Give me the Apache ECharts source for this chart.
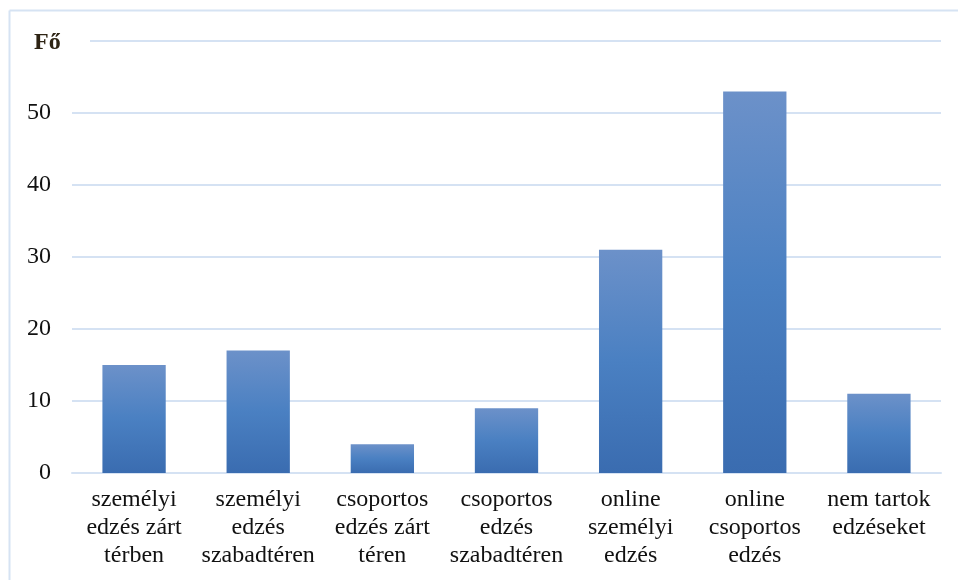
<!DOCTYPE html>
<html>
<head>
<meta charset="utf-8">
<title>Edzésformák</title>
<script src="https://cdn.jsdelivr.net/npm/echarts@6/dist/echarts.min.js"></script>
<style>
  html, body { margin: 0; padding: 0; background: #fff; }
  #main { width: 958px; height: 580px; }
</style>
</head>
<body>
<div id="main"></div>
<script type="text/javascript">
// adatok
var categories = [
  'személyi\nedzés zárt\ntérben',
  'személyi\nedzés\nszabadtéren',
  'csoportos\nedzés zárt\ntéren',
  'csoportos\nedzés\nszabadtéren',
  'online\nszemélyi\nedzés',
  'online\ncsoportos\nedzés',
  'nem tartok\nedzéseket'
];
var values = [15, 17, 4, 9, 31, 53, 11];
var yTicks = [0, 10, 20, 30, 40, 50, 60];
var yName = 'Fő';

var myChart = echarts.init(document.getElementById('main'));
var fontFam = '"Liberation Serif", "Times New Roman", serif';
var gridColor = '#d5e2f3';

var option = {
  backgroundColor: '#fff',
  animation: false,
  grid: { left: 72, right: 17, top: 41, bottom: 107 },
  xAxis: {
    type: 'category',
    data: categories,
    axisTick: { show: false },
    axisLine: { lineStyle: { color: gridColor, width: 2 } },
    axisLabel: {
      interval: 0,
      margin: 13,
      fontFamily: fontFam,
      fontSize: 24,
      lineHeight: 28,
      color: '#111'
    }
  },
  yAxis: {
    type: 'value',
    min: yTicks[0],
    max: yTicks[yTicks.length - 1],
    interval: 10,
    axisLine: { show: false },
    axisTick: { show: false },
    splitLine: { lineStyle: { color: gridColor, width: 2 } },
    axisLabel: {
      margin: 21,
      fontFamily: fontFam,
      fontSize: 24,
      color: '#111',
      formatter: function (v) { return v === 60 ? '' : String(v); }
    }
  },
  series: [{
    type: 'bar',
    data: values,
    barWidth: '51%',
    itemStyle: {
      color: new echarts.graphic.LinearGradient(0, 0, 0, 1, [
        { offset: 0, color: '#6c91c9' },
        { offset: 0.5, color: '#4a80c2' },
        { offset: 1, color: '#3a6cb0' }
      ])
    }
  }],
  graphic: [
    { type: 'rect', left: 10, top: 18, shape: { width: 80, height: 46 }, style: { fill: '#fff' }, z: 100 },
    { type: 'text', left: 34, top: 31, style: { text: yName, font: 'bold 24px ' + fontFam, fill: '#2e2414' }, z: 101 },
    { type: 'line', shape: { x1: 9.5, y1: 10.5, x2: 958, y2: 10.5 }, style: { stroke: '#d6e3f3', lineWidth: 2 }, z: 101 },
    { type: 'line', shape: { x1: 9.5, y1: 10.5, x2: 9.5, y2: 580 }, style: { stroke: '#d6e3f3', lineWidth: 2 }, z: 101 }
  ]
};
myChart.setOption(option);
</script>
</body>
</html>
